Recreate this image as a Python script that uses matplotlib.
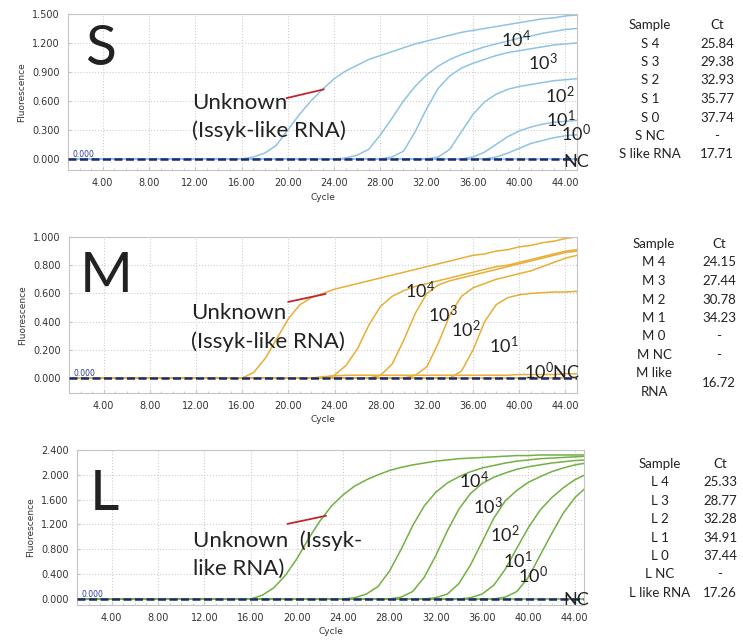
import matplotlib
matplotlib.use("Agg")
import matplotlib.pyplot as plt
from matplotlib.ticker import MultipleLocator, FormatStrFormatter

plt.rcParams['font.family'] = ['DejaVu Sans']
plt.rcParams['mathtext.fontset'] = 'custom'
plt.rcParams['mathtext.rm'] = 'Lato'
plt.rcParams['mathtext.default'] = 'regular'

# ---------------- data ----------------
cycles = list(range(1, 46))

S_unknown = [0, 0, 0, 0, 0, 0, 0, 0, 0, 0, 0, 0, 0, 0, 0, 0,
             0.02, 0.06, 0.14, 0.30, 0.46, 0.60, 0.72, 0.83, 0.91, 0.97, 1.03, 1.07, 1.11, 1.15,
             1.19, 1.22, 1.25, 1.28, 1.31, 1.33, 1.35, 1.37, 1.39, 1.41, 1.43, 1.45, 1.46, 1.48, 1.49]
S_4 = [0, 0, 0, 0, 0, 0, 0, 0, 0, 0, 0, 0, 0, 0, 0, 0, 0, 0, 0, 0, 0, 0, 0, 0,
       0.01, 0.04, 0.10, 0.25, 0.42, 0.60, 0.75, 0.87, 0.96, 1.03, 1.08, 1.12, 1.16, 1.19,
       1.22, 1.25, 1.27, 1.30, 1.32, 1.34, 1.35]
S_3 = [0, 0, 0, 0, 0, 0, 0, 0, 0, 0, 0, 0, 0, 0, 0, 0, 0, 0, 0, 0, 0, 0, 0, 0, 0, 0, 0, 0,
       0.02, 0.08, 0.28, 0.52, 0.73, 0.86, 0.94, 0.99, 1.03, 1.07, 1.10, 1.12, 1.14, 1.16,
       1.18, 1.19, 1.20]
S_2 = [0, 0, 0, 0, 0, 0, 0, 0, 0, 0, 0, 0, 0, 0, 0, 0, 0, 0, 0, 0, 0, 0, 0, 0, 0, 0, 0, 0,
       0, 0, 0, 0,
       0.02, 0.10, 0.28, 0.46, 0.59, 0.67, 0.72, 0.75, 0.77, 0.79, 0.81, 0.82, 0.83]
S_1 = [0, 0, 0, 0, 0, 0, 0, 0, 0, 0, 0, 0, 0, 0, 0, 0, 0, 0, 0, 0, 0, 0, 0, 0, 0, 0, 0, 0,
       0, 0, 0, 0, 0, 0, 0,
       0.02, 0.07, 0.15, 0.23, 0.29, 0.33, 0.36, 0.38, 0.39, 0.40]
S_0 = [0, 0, 0, 0, 0, 0, 0, 0, 0, 0, 0, 0, 0, 0, 0, 0, 0, 0, 0, 0, 0, 0, 0, 0, 0, 0, 0, 0,
       0, 0, 0, 0, 0, 0, 0, 0, 0,
       0.02, 0.06, 0.11, 0.16, 0.19, 0.22, 0.24, 0.25]

M_unknown = [0, 0, 0, 0, 0, 0, 0, 0, 0, 0, 0, 0, 0, 0, 0, 0,
             0.04, 0.14, 0.28, 0.42, 0.52, 0.57, 0.60, 0.63, 0.65, 0.67, 0.69, 0.71, 0.73, 0.75,
             0.77, 0.79, 0.81, 0.83, 0.85, 0.87, 0.88, 0.90, 0.91, 0.93, 0.94, 0.96, 0.97, 0.99, 1.00]
M_4 = [0, 0, 0, 0, 0, 0, 0, 0, 0, 0, 0, 0, 0, 0, 0, 0, 0, 0, 0, 0, 0, 0, 0,
       0.02, 0.09, 0.21, 0.38, 0.51, 0.58, 0.62, 0.65, 0.67, 0.69, 0.71, 0.73, 0.75, 0.77,
       0.79, 0.80, 0.82, 0.84, 0.86, 0.88, 0.90, 0.91]
M_3 = [0, 0, 0, 0, 0, 0, 0, 0, 0, 0, 0, 0, 0, 0, 0, 0, 0, 0, 0, 0, 0, 0, 0, 0, 0, 0, 0,
       0.02, 0.10, 0.27, 0.46, 0.60, 0.66, 0.69, 0.71, 0.73, 0.75, 0.77, 0.79, 0.81, 0.83,
       0.85, 0.87, 0.89, 0.90]
M_2 = [0, 0, 0, 0, 0, 0, 0, 0, 0, 0, 0, 0, 0, 0, 0, 0, 0, 0, 0, 0, 0, 0, 0, 0, 0, 0, 0,
       0, 0, 0,
       0.02, 0.08, 0.25, 0.45, 0.58, 0.64, 0.67, 0.70, 0.72, 0.74, 0.76, 0.79, 0.82, 0.85, 0.87]
M_1 = [0, 0, 0, 0, 0, 0, 0, 0, 0, 0, 0, 0, 0, 0, 0, 0, 0, 0, 0, 0, 0, 0, 0, 0, 0, 0, 0,
       0, 0, 0, 0, 0, 0, 0,
       0.05, 0.20, 0.40, 0.52, 0.57, 0.59, 0.60, 0.605, 0.61, 0.61, 0.615]
M_0 = [0, 0, 0, 0, 0, 0, 0, 0, 0, 0, 0, 0, 0, 0, 0, 0, 0, 0, 0, 0, 0, 0,
       0.01, 0.015, 0.02, 0.02, 0.02, 0.02, 0.02, 0.02, 0.02, 0.02, 0.02, 0.02, 0.02,
       0.02, 0.02, 0.02, 0.02, 0.025, 0.025, 0.025, 0.025, 0.03, 0.03]

L_unknown = [0, 0, 0, 0, 0, 0, 0, 0, 0, 0, 0, 0, 0, 0, 0, 0,
             0.06, 0.18, 0.38, 0.65, 0.97, 1.26, 1.50, 1.68, 1.82, 1.92, 2.00, 2.07, 2.12, 2.16,
             2.19, 2.22, 2.24, 2.26, 2.27, 2.28, 2.29, 2.30, 2.31, 2.31, 2.32, 2.32, 2.32, 2.32, 2.32]
L_4 = [0, 0, 0, 0, 0, 0, 0, 0, 0, 0, 0, 0, 0, 0, 0, 0, 0, 0, 0, 0, 0, 0, 0, 0,
       0.02, 0.08, 0.20, 0.45, 0.80, 1.18, 1.50, 1.72, 1.87, 1.97, 2.05, 2.11, 2.15, 2.19,
       2.22, 2.24, 2.26, 2.27, 2.28, 2.29, 2.30]
L_3 = [0, 0, 0, 0, 0, 0, 0, 0, 0, 0, 0, 0, 0, 0, 0, 0, 0, 0, 0, 0, 0, 0, 0, 0, 0, 0, 0, 0,
       0.03, 0.12, 0.35, 0.70, 1.10, 1.45, 1.70, 1.86, 1.96, 2.03, 2.09, 2.13, 2.16, 2.19,
       2.21, 2.23, 2.24]
L_2 = [0, 0, 0, 0, 0, 0, 0, 0, 0, 0, 0, 0, 0, 0, 0, 0, 0, 0, 0, 0, 0, 0, 0, 0, 0, 0, 0, 0,
       0, 0, 0,
       0.02, 0.08, 0.25, 0.55, 0.92, 1.30, 1.58, 1.75, 1.88, 1.97, 2.05, 2.11, 2.16, 2.19]
L_1 = [0, 0, 0, 0, 0, 0, 0, 0, 0, 0, 0, 0, 0, 0, 0, 0, 0, 0, 0, 0, 0, 0, 0, 0, 0, 0, 0, 0,
       0, 0, 0, 0, 0, 0,
       0.02, 0.08, 0.22, 0.48, 0.82, 1.15, 1.43, 1.63, 1.79, 1.92, 2.01]
L_0 = [0, 0, 0, 0, 0, 0, 0, 0, 0, 0, 0, 0, 0, 0, 0, 0, 0, 0, 0, 0, 0, 0, 0, 0, 0, 0, 0, 0,
       0, 0, 0, 0, 0, 0, 0, 0, 0,
       0.03, 0.12, 0.35, 0.70, 1.05, 1.38, 1.63, 1.80]

NC = [0] * 45

S_table_samples = ["S 4", "S 3", "S 2", "S 1", "S 0", "S NC", "S like RNA"]
S_table_ct = ["25.84", "29.38", "32.93", "35.77", "37.74", "-", "17.71"]
M_table_samples = ["M 4", "M 3", "M 2", "M 1", "M 0", "M NC", "M like\nRNA"]
M_table_ct = ["24.15", "27.44", "30.78", "34.23", "-", "-", "16.72"]
L_table_samples = ["L 4", "L 3", "L 2", "L 1", "L 0", "L NC", "L like RNA"]
L_table_ct = ["25.33", "28.77", "32.28", "34.91", "37.44", "-", "17.26"]

# ---------------- figure ----------------
W, H = 743, 640
fig = plt.figure(figsize=(W / 100, H / 100), dpi=100)
fig.patch.set_facecolor('white')


def rect(l, r, t, b):
    return [l / W, 1 - b / H, (r - l) / W, (b - t) / H]


NAVY = '#1b2b6e'
TXT = 'Lato'


def setup(ax, ylim, ystep, xlim):
    ax.set_xlim(*xlim)
    ax.set_ylim(*ylim)
    ax.xaxis.set_major_locator(MultipleLocator(4))
    ax.xaxis.set_minor_locator(MultipleLocator(1))
    ax.yaxis.set_major_locator(MultipleLocator(ystep))
    ax.xaxis.set_major_formatter(FormatStrFormatter('%.2f'))
    ax.yaxis.set_major_formatter(FormatStrFormatter('%.3f'))
    ax.grid(True, which='major', color='#cfcfcf', ls=':', lw=0.8)
    for s in ax.spines.values():
        s.set_color('#c4c4c4')
        s.set_linewidth(0.8)
    ax.tick_params(axis='both', which='major', labelsize=7, colors='#c4c4c4',
                   labelcolor='#333333', length=2.5, direction='in', pad=6)
    ax.tick_params(axis='x', which='minor', length=1.8, direction='in', colors='#c4c4c4')
    ax.set_ylabel('Fluorescence', fontsize=6.5, color='#333333', labelpad=4)
    ax.set_xlabel('Cycle', fontsize=6.5, color='#333333', labelpad=3)
    ax.axhline(0, color=NAVY, ls=(0, (3.2, 1.4)), lw=1.8, zorder=5)
    ax.text(1.35, ylim[1] * 0.012, '0.000', fontsize=5.5, color='#2a3a9a', zorder=6)


def sup(n):
    return '10$^{%d}$' % n


# ---- S panel ----
axS = fig.add_axes(rect(68, 577, 14, 170))
setup(axS, (-0.114, 1.5), 0.3, (1, 45))
cS = '#8fc3e3'
for ser in [S_unknown, S_4, S_3, S_2, S_1, S_0, NC]:
    axS.plot(cycles, ser, color=cS, lw=1.1)
axS.text(0.033, 0.673, 'S', transform=axS.transAxes, fontsize=41, family=TXT, color='#222222')
axS.text(11.7, 0.517, 'Unknown', fontsize=16, family=TXT, color='#222222')
axS.text(11.7, 0.228, '(Issyk-like RNA)', fontsize=16, family=TXT, color='#222222')
axS.plot([19.9, 23.1], [0.63, 0.72], color='#c0272d', lw=1.3)
for (x, y, n) in [(38.4, 1.16, 4), (40.8, 0.92, 3), (42.2, 0.58, 2), (42.3, 0.33, 1), (43.6, 0.18, 0)]:
    axS.text(x, y, sup(n), fontsize=13, family=TXT, color='#222222', zorder=7)
axS.text(43.8, -0.08, 'NC', fontsize=13, family=TXT, color='#222222', zorder=7)

# ---- M panel ----
axM = fig.add_axes(rect(69, 577, 237, 393))
setup(axM, (-0.106, 1.0), 0.2, (1, 45))
cM = '#e8ae35'
for ser in [M_0, NC, M_unknown, M_4, M_3, M_2, M_1]:
    axM.plot(cycles, ser, color=cM, lw=1.1)
axM.text(0.022, 0.647, 'M', transform=axM.transAxes, fontsize=41, family=TXT, color='#222222')
axM.text(11.6, 0.418, 'Unknown', fontsize=16, family=TXT, color='#222222')
axM.text(11.6, 0.213, '(Issyk-like RNA)', fontsize=16, family=TXT, color='#222222')
axM.plot([20.0, 23.2], [0.54, 0.596], color='#c0272d', lw=1.3)
for (x, y, n) in [(30.1, 0.57, 4), (32.1, 0.40, 3), (34.1, 0.29, 2), (37.4, 0.18, 1)]:
    axM.text(x, y, sup(n), fontsize=13, family=TXT, color='#222222', zorder=7)
axM.text(40.4, -0.01, sup(0) + 'NC', fontsize=13, family=TXT, color='#222222', zorder=7)

# ---- L panel ----
axL = fig.add_axes(rect(77, 584, 450, 605))
setup(axL, (-0.097, 2.4), 0.4, (1, 44.8))
cL = '#72b043'
for ser in [L_unknown, L_4, L_3, L_2, L_1, L_0, NC]:
    axL.plot(cycles, ser, color=cL, lw=1.1)
axL.text(0.025, 0.613, 'L', transform=axL.transAxes, fontsize=41, family=TXT, color='#222222')
axL.text(11.0, 0.84, 'Unknown  (Issyk-', fontsize=16, family=TXT, color='#222222')
axL.text(11.0, 0.39, 'like RNA)', fontsize=16, family=TXT, color='#222222')
axL.plot([19.2, 22.5], [1.21, 1.34], color='#c0272d', lw=1.3)
for (x, y, n) in [(34.0, 1.79, 4), (35.2, 1.37, 3), (36.7, 0.92, 2), (37.8, 0.50, 1), (39.1, 0.26, 0)]:
    axL.text(x, y, sup(n), fontsize=13, family=TXT, color='#222222', zorder=7)
axL.text(43.0, -0.10, 'NC', fontsize=13, family=TXT, color='#222222', zorder=7)


# ---------------- tables ----------------
def table(c1, c2, y0, dy, samples, cts):
    kw = dict(fontsize=9.5, family=TXT, color='#222222', ha='center', va='center')
    fig.text(c1 / W, 1 - y0 / H, 'Sample', **kw)
    fig.text(c2 / W, 1 - y0 / H, 'Ct', **kw)
    for i, (s, c) in enumerate(zip(samples, cts)):
        y = y0 + dy * (i + 1)
        if '\n' in s:
            a, b = s.split('\n')
            yy = y + 0.5 * dy
            fig.text(c1 / W, 1 - (yy - 9.5) / H, a, **kw)
            fig.text(c1 / W, 1 - (yy + 9.5) / H, b, **kw)
            fig.text(c2 / W, 1 - yy / H, c, **kw)
        else:
            fig.text(c1 / W, 1 - y / H, s, **kw)
            fig.text(c2 / W, 1 - y / H, c, **kw)


table(650, 717, 25, 18.5, S_table_samples, S_table_ct)
table(654, 719, 244, 18.5, M_table_samples, M_table_ct)
table(660, 720, 464, 18.4, L_table_samples, L_table_ct)

fig.savefig('out.png', dpi=100)
